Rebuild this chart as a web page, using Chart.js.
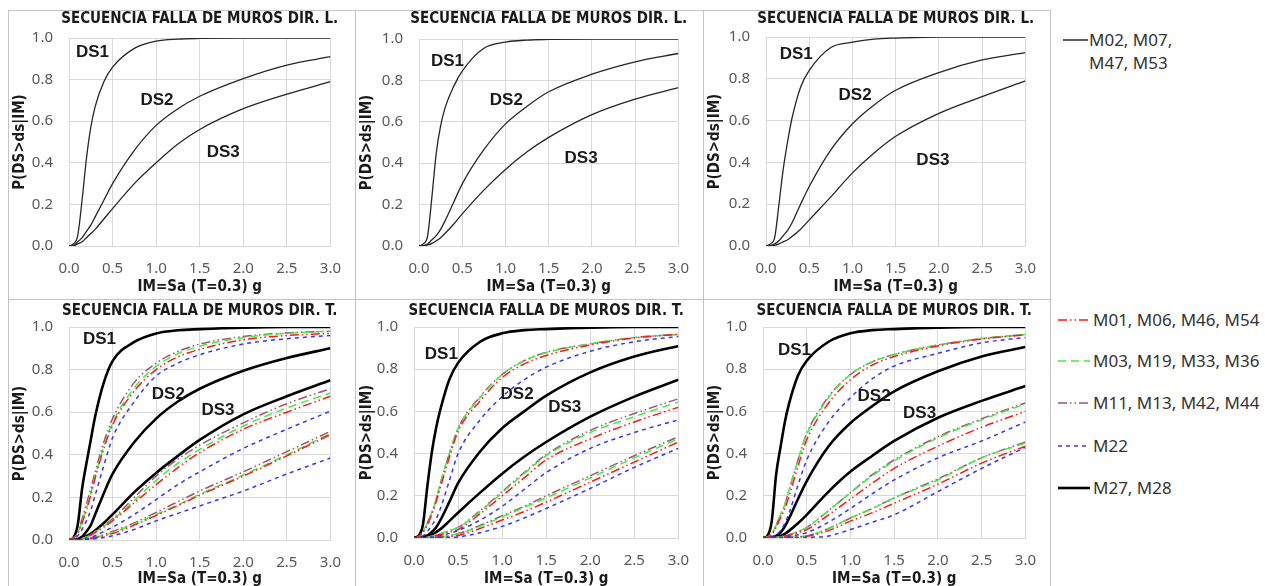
<!DOCTYPE html>
<html>
<head>
<meta charset="utf-8">
<script src="https://cdn.jsdelivr.net/npm/chart.js@4.4.1/dist/chart.umd.min.js"></script>
<style>
  body { margin: 0; background: #fff; width: 1265px; height: 586px; overflow: hidden; position: relative; font-family: "Noto Sans", sans-serif; }
  .frame { position: absolute; box-sizing: border-box; border: 1px solid #c4c4c4; }
  canvas { position: absolute; }
  .leg { position: absolute; font-size: 17px; color: #333; white-space: nowrap; line-height: 23px; }
  .leg svg { position: absolute; }
</style>
</head>
<body>
<script>
/* Fragility curves P(DS>ds|IM) vs IM=Sa(T=0.3) g — muros dir. L / dir. T */

// ---- data ----
const imSa = [0, 0.05, 0.1, 0.15, 0.2, 0.25, 0.3, 0.4, 0.5, 0.75, 1.0, 1.25, 1.5, 2.0, 2.5, 3.0];
const xTickLabels = ['0.0', '0.5', '1.0', '1.5', '2.0', '2.5', '3.0'];
const yTickLabels = ['0.0', '0.2', '0.4', '0.6', '0.8', '1.0'];
const dsLabels = ['DS1', 'DS2', 'DS3'];

// dir. L panels: M02, M07, M47, M53  [DS1, DS2, DS3]
const dirL_1 = [
  [0, 0.01, 0.05, 0.22, 0.42, 0.57, 0.67, 0.79, 0.86, 0.95, 0.985, 0.995, 0.998, 1, 1, 1],
  [0, 0.002, 0.02, 0.04, 0.07, 0.10, 0.14, 0.22, 0.30, 0.46, 0.58, 0.66, 0.72, 0.805, 0.87, 0.91],
  [0, 0.001, 0.01, 0.02, 0.04, 0.06, 0.08, 0.13, 0.18, 0.30, 0.40, 0.49, 0.56, 0.66, 0.73, 0.79]
];
const dirL_2 = [
  [0, 0.01, 0.05, 0.24, 0.45, 0.58, 0.665, 0.77, 0.845, 0.955, 0.985, 0.995, 0.998, 1, 1, 1],
  [0, 0.002, 0.01, 0.03, 0.05, 0.08, 0.12, 0.21, 0.30, 0.465, 0.59, 0.675, 0.745, 0.83, 0.89, 0.93],
  [0, 0, 0.005, 0.013, 0.025, 0.04, 0.06, 0.105, 0.155, 0.27, 0.37, 0.455, 0.525, 0.635, 0.71, 0.765]
];
const dirL_3 = [
  [0, 0.01, 0.04, 0.20, 0.37, 0.50, 0.61, 0.76, 0.84, 0.95, 0.975, 0.99, 0.995, 0.999, 1, 1],
  [0, 0.002, 0.01, 0.025, 0.05, 0.075, 0.11, 0.20, 0.285, 0.46, 0.585, 0.675, 0.745, 0.83, 0.89, 0.925],
  [0, 0, 0.003, 0.01, 0.02, 0.03, 0.045, 0.08, 0.125, 0.235, 0.35, 0.445, 0.525, 0.635, 0.715, 0.79]
];

// dir. T, panel 1
const dirT1_M01 = [
  [0, 0.01, 0.03, 0.08, 0.14, 0.21, 0.29, 0.43, 0.54, 0.70, 0.80, 0.86, 0.895, 0.94, 0.96, 0.97],
  [0, 0, 0.002, 0.006, 0.013, 0.022, 0.035, 0.06, 0.09, 0.175, 0.26, 0.34, 0.41, 0.52, 0.60, 0.675],
  [0, 0, 0, 0.002, 0.004, 0.007, 0.01, 0.02, 0.03, 0.07, 0.115, 0.162, 0.21, 0.30, 0.395, 0.495]
];
const dirT1_M03 = [
  [0, 0.01, 0.03, 0.09, 0.15, 0.22, 0.30, 0.44, 0.55, 0.715, 0.815, 0.875, 0.91, 0.95, 0.97, 0.98],
  [0, 0, 0.002, 0.007, 0.014, 0.024, 0.038, 0.065, 0.095, 0.185, 0.28, 0.36, 0.425, 0.535, 0.62, 0.69],
  [0, 0, 0, 0.002, 0.005, 0.008, 0.012, 0.022, 0.035, 0.075, 0.12, 0.165, 0.215, 0.305, 0.40, 0.50]
];
const dirT1_M11 = [
  [0, 0.01, 0.035, 0.10, 0.17, 0.24, 0.32, 0.46, 0.57, 0.74, 0.83, 0.885, 0.92, 0.955, 0.972, 0.98],
  [0, 0, 0.002, 0.008, 0.015, 0.026, 0.04, 0.07, 0.10, 0.20, 0.30, 0.38, 0.445, 0.55, 0.64, 0.71],
  [0, 0, 0, 0.002, 0.005, 0.009, 0.014, 0.025, 0.04, 0.08, 0.13, 0.18, 0.23, 0.32, 0.415, 0.51]
];
const dirT1_M22 = [
  [0, 0.005, 0.02, 0.05, 0.09, 0.14, 0.21, 0.35, 0.48, 0.65, 0.77, 0.83, 0.87, 0.92, 0.945, 0.96],
  [0, 0, 0.001, 0.003, 0.007, 0.012, 0.02, 0.04, 0.06, 0.12, 0.19, 0.26, 0.32, 0.43, 0.52, 0.605],
  [0, 0, 0, 0.001, 0.002, 0.004, 0.006, 0.012, 0.02, 0.05, 0.09, 0.125, 0.16, 0.23, 0.31, 0.385]
];
const dirT1_M27 = [
  [0, 0.01, 0.07, 0.24, 0.36, 0.47, 0.58, 0.74, 0.84, 0.93, 0.97, 0.985, 0.99, 0.997, 1, 1],
  [0, 0, 0.005, 0.015, 0.04, 0.07, 0.12, 0.22, 0.31, 0.46, 0.57, 0.65, 0.71, 0.795, 0.855, 0.90],
  [0, 0, 0.002, 0.008, 0.018, 0.03, 0.045, 0.08, 0.12, 0.225, 0.315, 0.395, 0.47, 0.59, 0.675, 0.75]
];

// dir. T, panel 2
const dirT2_M01 = [
  [0, 0.005, 0.025, 0.06, 0.11, 0.17, 0.24, 0.38, 0.505, 0.65, 0.76, 0.825, 0.865, 0.915, 0.948, 0.965],
  [0, 0, 0.001, 0.003, 0.006, 0.01, 0.015, 0.027, 0.04, 0.115, 0.20, 0.285, 0.37, 0.47, 0.55, 0.62],
  [0, 0, 0, 0.001, 0.002, 0.003, 0.004, 0.007, 0.012, 0.045, 0.085, 0.125, 0.17, 0.265, 0.36, 0.455]
];
const dirT2_M03 = [
  [0, 0.005, 0.03, 0.07, 0.12, 0.18, 0.26, 0.40, 0.52, 0.665, 0.775, 0.84, 0.878, 0.92, 0.95, 0.965],
  [0, 0, 0.001, 0.004, 0.008, 0.013, 0.02, 0.035, 0.05, 0.125, 0.215, 0.305, 0.39, 0.50, 0.575, 0.645],
  [0, 0, 0, 0.001, 0.002, 0.004, 0.006, 0.012, 0.02, 0.055, 0.10, 0.145, 0.19, 0.285, 0.38, 0.47]
];
const dirT2_M11 = [
  [0, 0.005, 0.03, 0.07, 0.12, 0.18, 0.26, 0.40, 0.52, 0.67, 0.775, 0.84, 0.88, 0.92, 0.95, 0.965],
  [0, 0, 0.001, 0.004, 0.008, 0.013, 0.02, 0.035, 0.05, 0.13, 0.22, 0.31, 0.395, 0.51, 0.59, 0.66],
  [0, 0, 0, 0.001, 0.002, 0.004, 0.006, 0.012, 0.02, 0.06, 0.105, 0.15, 0.20, 0.295, 0.39, 0.48]
];
const dirT2_M22 = [
  [0, 0.002, 0.01, 0.03, 0.06, 0.09, 0.14, 0.27, 0.40, 0.56, 0.67, 0.75, 0.81, 0.885, 0.93, 0.955],
  [0, 0, 0, 0.002, 0.004, 0.007, 0.011, 0.022, 0.035, 0.085, 0.15, 0.23, 0.31, 0.425, 0.50, 0.56],
  [0, 0, 0, 0, 0.001, 0.001, 0.002, 0.003, 0.005, 0.025, 0.055, 0.095, 0.14, 0.235, 0.335, 0.425]
];
const dirT2_M27 = [
  [0, 0.01, 0.06, 0.24, 0.40, 0.52, 0.61, 0.75, 0.83, 0.93, 0.97, 0.985, 0.99, 0.997, 1, 1],
  [0, 0, 0.004, 0.012, 0.028, 0.05, 0.085, 0.17, 0.26, 0.41, 0.52, 0.60, 0.675, 0.785, 0.86, 0.91],
  [0, 0, 0.002, 0.006, 0.015, 0.028, 0.042, 0.08, 0.12, 0.215, 0.305, 0.385, 0.455, 0.575, 0.67, 0.75]
];

// dir. T, panel 3
const dirT3_M01 = [
  [0, 0.004, 0.015, 0.05, 0.095, 0.14, 0.20, 0.34, 0.465, 0.64, 0.75, 0.82, 0.86, 0.91, 0.943, 0.963],
  [0, 0, 0.001, 0.002, 0.005, 0.008, 0.013, 0.025, 0.04, 0.11, 0.185, 0.26, 0.33, 0.435, 0.525, 0.60],
  [0, 0, 0, 0, 0.001, 0.002, 0.003, 0.005, 0.008, 0.035, 0.08, 0.12, 0.165, 0.255, 0.355, 0.435]
];
const dirT3_M03 = [
  [0, 0.005, 0.02, 0.06, 0.11, 0.16, 0.23, 0.37, 0.49, 0.665, 0.775, 0.835, 0.87, 0.915, 0.945, 0.965],
  [0, 0, 0.001, 0.003, 0.006, 0.01, 0.016, 0.03, 0.05, 0.13, 0.215, 0.295, 0.365, 0.475, 0.56, 0.635],
  [0, 0, 0, 0, 0.001, 0.002, 0.003, 0.006, 0.01, 0.045, 0.095, 0.14, 0.19, 0.275, 0.38, 0.45]
];
const dirT3_M11 = [
  [0, 0.005, 0.02, 0.06, 0.11, 0.16, 0.23, 0.37, 0.495, 0.67, 0.775, 0.835, 0.87, 0.915, 0.945, 0.965],
  [0, 0, 0.001, 0.003, 0.006, 0.01, 0.016, 0.03, 0.05, 0.13, 0.215, 0.30, 0.37, 0.48, 0.565, 0.64],
  [0, 0, 0, 0, 0.001, 0.002, 0.003, 0.006, 0.01, 0.045, 0.095, 0.14, 0.19, 0.28, 0.38, 0.455]
];
const dirT3_M22 = [
  [0, 0.002, 0.005, 0.015, 0.035, 0.07, 0.12, 0.25, 0.37, 0.55, 0.665, 0.755, 0.815, 0.875, 0.925, 0.95],
  [0, 0, 0, 0.001, 0.003, 0.005, 0.008, 0.015, 0.025, 0.075, 0.14, 0.21, 0.275, 0.38, 0.46, 0.55],
  [0, 0, 0, 0, 0, 0, 0.001, 0.002, 0.003, 0.01, 0.04, 0.075, 0.11, 0.22, 0.33, 0.43]
];
const dirT3_M27 = [
  [0, 0.01, 0.08, 0.30, 0.43, 0.55, 0.64, 0.77, 0.84, 0.93, 0.97, 0.985, 0.99, 0.997, 1, 1],
  [0, 0, 0.003, 0.01, 0.025, 0.055, 0.095, 0.185, 0.27, 0.435, 0.545, 0.625, 0.695, 0.79, 0.86, 0.905],
  [0, 0, 0.001, 0.004, 0.01, 0.02, 0.035, 0.07, 0.11, 0.22, 0.315, 0.39, 0.46, 0.57, 0.65, 0.72]
];

const groupL = 'M02, M07, M47, M53';
const groupNames = ['M01, M06, M46, M54', 'M03, M19, M33, M36', 'M11, M13, M42, M44', 'M22', 'M27, M28'];

// ---- styles ----
const FONT_COND = '"Liberation Sans Narrow", "DejaVu Sans Condensed", "Arial Narrow", sans-serif';
const FONT_TICK = '"Noto Sans", sans-serif';
const GRID = '#d9d9d9';

const thinStyle = { borderColor: '#262626', borderWidth: 1.3, borderDash: [] };
const groupStyles = [
  { borderColor: '#ff1a1a', borderWidth: 1.5, borderDash: [9, 3, 1.5, 3, 1.5, 3] },
  { borderColor: '#3ff03f', borderWidth: 1.5, borderDash: [8, 5] },
  { borderColor: '#a0527a', borderWidth: 1.5, borderDash: [9, 3, 1.5, 3, 1.5, 3] },
  { borderColor: '#3434ff', borderWidth: 1.5, borderDash: [4, 4] },
  { borderColor: '#000000', borderWidth: 2.6, borderDash: [] }
];

// panel boxes [left, top, width, height] and plot areas [left, top, right, bottom] in page px
const panels = [
  { box: [8, 10, 347, 289], area: [69, 38, 338, 246], title: 'SECUENCIA FALLA DE MUROS DIR. L.', titleY: 19,
    sets: [[dirL_1, thinStyle]], labels: [[0.27, 0.93], [1.01, 0.70], [1.77, 0.45]] },
  { box: [355, 10, 348, 289], area: [419, 39, 683, 246], title: 'SECUENCIA FALLA DE MUROS DIR. L.', titleY: 19,
    sets: [[dirL_2, thinStyle]], labels: [[0.33, 0.89], [1.01, 0.705], [1.875, 0.425]] },
  { box: [703, 10, 347, 289], area: [766, 37, 1031, 246], title: 'SECUENCIA FALLA DE MUROS DIR. L.', titleY: 19,
    sets: [[dirL_3, thinStyle]], labels: [[0.35, 0.915], [1.03, 0.72], [1.93, 0.41]] },
  { box: [8, 299, 347, 291], area: [69, 327, 337, 540], title: 'SECUENCIA FALLA DE MUROS DIR. T.', titleY: 311,
    sets: [[dirT1_M22, groupStyles[3]], [dirT1_M01, groupStyles[0]], [dirT1_M03, groupStyles[1]], [dirT1_M11, groupStyles[2]], [dirT1_M27, groupStyles[4]]],
    labels: [[0.35, 0.94], [1.14, 0.685], [1.71, 0.61]] },
  { box: [355, 299, 348, 291], area: [414, 327, 683, 538], title: 'SECUENCIA FALLA DE MUROS DIR. T.', titleY: 311,
    sets: [[dirT2_M22, groupStyles[3]], [dirT2_M01, groupStyles[0]], [dirT2_M03, groupStyles[1]], [dirT2_M11, groupStyles[2]], [dirT2_M27, groupStyles[4]]],
    labels: [[0.31, 0.87], [1.17, 0.68], [1.71, 0.62]] },
  { box: [703, 299, 347, 291], area: [763, 327, 1031, 538], title: 'SECUENCIA FALLA DE MUROS DIR. T.', titleY: 311,
    sets: [[dirT3_M22, groupStyles[3]], [dirT3_M01, groupStyles[0]], [dirT3_M03, groupStyles[1]], [dirT3_M11, groupStyles[2]], [dirT3_M27, groupStyles[4]]],
    labels: [[0.36, 0.89], [1.27, 0.67], [1.79, 0.59]] }
];

// titles + DS1/DS2/DS3 annotations
const panelText = {
  id: 'panelText',
  afterDraw(chart, args, opts) {
    const { ctx, chartArea, scales } = chart;
    ctx.save();
    ctx.textAlign = 'center';
    ctx.textBaseline = 'middle';
    ctx.fillStyle = '#1a1a1a';
    ctx.font = 'bold 15px ' + FONT_COND;
    ctx.fillText(opts.title, (chartArea.left + chartArea.right) / 2, opts.titleY);
    ctx.font = 'bold 17px "Liberation Sans", Arial, sans-serif';
    opts.labels.forEach((p, i) => {
      ctx.fillText(dsLabels[i], scales.x.getPixelForValue(p[0]), scales.y.getPixelForValue(p[1]));
    });
    ctx.restore();
  }
};

function frame(l, t, w, h) {
  const d = document.createElement('div');
  d.className = 'frame';
  Object.assign(d.style, { left: l + 'px', top: t + 'px', width: w + 'px', height: h + 'px' });
  document.body.appendChild(d);
}
frame(8, 10, 348, 290); frame(355, 10, 349, 290); frame(703, 10, 348, 290);
frame(8, 299, 348, 300); frame(355, 299, 349, 300); frame(703, 299, 348, 300);

panels.forEach(p => {
  const [bx, by, bw, bh] = p.box;
  const [al, at, ar, ab] = p.area;
  const cv = document.createElement('canvas');
  cv.width = bw; cv.height = bh;
  cv.style.left = bx + 'px'; cv.style.top = by + 'px';
  document.body.appendChild(cv);

  const datasets = [];
  p.sets.forEach(([curves, style]) => {
    curves.forEach(ys => datasets.push({
      data: imSa.map((x, i) => ({ x, y: ys[i] })),
      ...style,
      pointRadius: 0,
      fill: false,
      cubicInterpolationMode: 'monotone'
    }));
  });

  const isTop = by < 100;
  new Chart(cv, {
    type: 'line',
    data: { datasets },
    options: {
      responsive: false,
      animation: false,
      devicePixelRatio: 1,
      layout: { padding: { left: 0, top: at - by, right: bx + bw - ar, bottom: 0 } },
      plugins: {
        legend: { display: false },
        tooltip: { enabled: false },
        panelText: { title: p.title, titleY: p.titleY - by, labels: p.labels }
      },
      scales: {
        x: {
          type: 'linear', min: 0, max: 3,
          afterFit: s => { s.height = by + bh - ab; },
          grid: { color: GRID, drawTicks: false },
          border: { color: GRID },
          ticks: { stepSize: 0.5, padding: 14, color: '#595959', font: { family: FONT_TICK, size: 15 },
                   callback: (v, i) => xTickLabels[i] },
          title: { display: true, text: 'IM=Sa (T=0.3) g', color: '#1a1a1a',
                   font: { family: FONT_COND, size: 15, weight: 'bold' }, padding: { top: 0, bottom: isTop ? 3 : 2 } }
        },
        y: {
          min: 0, max: 1,
          afterFit: s => { s.width = al - bx; },
          grid: { color: GRID, drawTicks: false },
          border: { color: GRID },
          ticks: { stepSize: 0.2, padding: 16, color: '#595959', font: { family: FONT_TICK, size: 15 },
                   callback: (v, i) => yTickLabels[i] },
          title: { display: true, text: 'P(DS>ds|IM)', color: '#1a1a1a',
                   font: { family: FONT_COND, size: 15, weight: 'bold' }, padding: { top: 3, bottom: 0 } }
        }
      }
    },
    plugins: [panelText]
  });
});

// ---- legends (HTML) ----
function legendLine(x, y, style, w) {
  const ns = 'http://www.w3.org/2000/svg';
  const svg = document.createElementNS(ns, 'svg');
  svg.setAttribute('width', w); svg.setAttribute('height', 6);
  svg.style.left = x + 'px'; svg.style.top = (y - 3) + 'px';
  svg.style.position = 'absolute';
  const ln = document.createElementNS(ns, 'line');
  ln.setAttribute('x1', 0); ln.setAttribute('x2', w);
  ln.setAttribute('y1', 3); ln.setAttribute('y2', 3);
  ln.setAttribute('stroke', style.borderColor);
  ln.setAttribute('stroke-width', style.borderWidth);
  if (style.borderDash.length) ln.setAttribute('stroke-dasharray', style.borderDash.join(' '));
  svg.appendChild(ln);
  document.body.appendChild(svg);
}
function legendText(x, yCenter, html) {
  const d = document.createElement('div');
  d.className = 'leg';
  d.style.left = x + 'px';
  d.style.top = (yCenter - 12) + 'px';
  d.innerHTML = html;
  document.body.appendChild(d);
}

legendLine(1063, 40, { borderColor: '#262626', borderWidth: 1.5, borderDash: [] }, 25);
const lParts = groupL.split(', ');
legendText(1089, 40, lParts[0] + ', ' + lParts[1] + ',<br>' + lParts[2] + ', ' + lParts[3]);

const legendY = [320, 361, 403, 446, 488];
groupNames.forEach((name, i) => {
  legendLine(1058, legendY[i], groupStyles[i], 32);
  legendText(1093, legendY[i], name);
});
</script>
</body>
</html>
